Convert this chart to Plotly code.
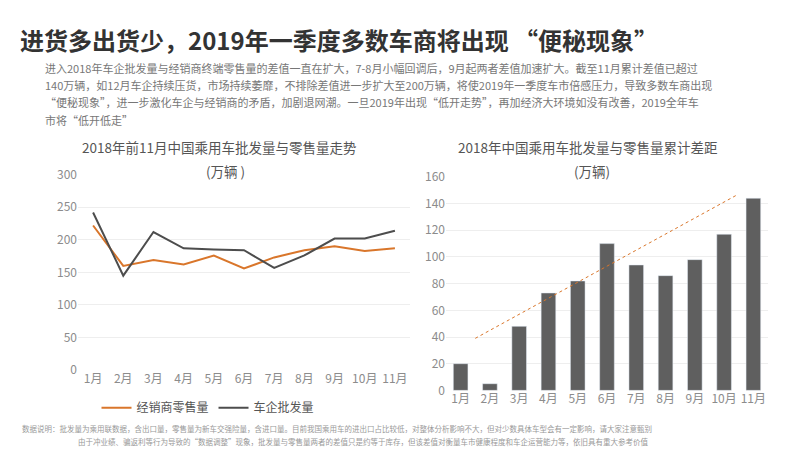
import plotly.graph_objects as go

months = ["1月", "2月", "3月", "4月", "5月", "6月", "7月", "8月", "9月", "10月", "11月"]
retail = [222, 160, 169, 162, 176, 156, 173, 184, 190, 183, 187]
wholesale = [242, 145, 212, 187, 185, 184, 157, 176, 202, 202, 214]
gap = [20, 5, 48, 73, 82, 110, 94, 86, 98, 117, 144]
trend_x = [0.5, 9.4]
trend_y = [39, 146]

para = [
    "进入2018年车企批发量与经销商终端零售量的差值一直在扩大，7-8月小幅回调后，9月起两者差值加速扩大。截至11月累计差值已超过",
    "140万辆，如12月车企持续压货，市场持续萎靡，不排除差值进一步扩大至200万辆，将使2019年一季度车市倍感压力，导致多数车商出现",
    "“便秘现象”，进一步激化车企与经销商的矛盾，加剧退网潮。一旦2019年出现“低开走势”，再加经济大环境如没有改善，2019全年车",
    "市将“低开低走”",
]
note = [
    "数据说明：批发量为乘用联数据，含出口量，零售量为新车交强险量，含进口量。目前我国乘用车的进出口占比较低，对整体分析影响不大，但对少数具体车型会有一定影响，请大家注意甄别",
    "由于冲业绩、骗返利等行为导致的“数据调整”现象，批发量与零售量两者的差值只是约等于库存，但该差值对衡量车市健康程度和车企运营能力等，依旧具有重大参考价值",
]

FONT = "Noto Sans CJK SC"
grey = "#8c8c8c"
fig = go.Figure()

fig.add_trace(go.Scatter(x=months, y=retail, mode="lines", name="经销商零售量",
                         line=dict(color="#d9762b", width=2), xaxis="x", yaxis="y"))
fig.add_trace(go.Scatter(x=months, y=wholesale, mode="lines", name="车企批发量",
                         line=dict(color="#4d4d4d", width=2), xaxis="x", yaxis="y"))
fig.add_trace(go.Bar(x=months, y=gap, marker_color="#5f5f5f", width=0.5,
                     showlegend=False, xaxis="x2", yaxis="y2"))
fig.add_trace(go.Scatter(x=trend_x, y=trend_y, mode="lines", showlegend=False,
                         line=dict(color="#d9762b", width=1, dash="dot"),
                         xaxis="x3", yaxis="y2"))

ax = dict(showgrid=False, showline=False, ticks="",
          tickfont=dict(color=grey, size=12, family=FONT))
ay = dict(showgrid=True, gridcolor="#eeeeee", zeroline=False, showline=False,
          tickfont=dict(color=grey, size=12, family=FONT))

fig.update_layout(
    width=800, height=450, margin=dict(l=0, r=0, t=0, b=0),
    paper_bgcolor="white", plot_bgcolor="white",
    font=dict(family=FONT),
    xaxis=dict(ax, domain=[0.0875, 0.5025], range=[-0.5, 10.5]),
    yaxis=dict(ay, domain=[0.187, 0.638], range=[0, 300], dtick=50),
    xaxis2=dict(ax, domain=[0.5475, 0.95], range=[-0.5, 10.5], anchor="y2"),
    yaxis2=dict(ay, domain=[0.14, 0.633], range=[0, 160], dtick=20, anchor="x2"),
    xaxis3=dict(domain=[0.5475, 0.95], range=[-0.5, 10.5], overlaying="x2",
                visible=False, anchor="y2"),
    legend=dict(orientation="h", x=0.25, xanchor="center", y=0.1, yanchor="middle",
                font=dict(size=12, color="#555555", family=FONT)),
)

ann = [
    dict(x=0.012, y=0.995, text="<b>进货多出货少，2019年一季度多数车商将出现 “便秘现象”</b>",
         font=dict(size=24, color="#333333")),
    dict(x=0.09, y=0.73, text="2018年前11月中国乘用车批发量与零售量走势",
         font=dict(size=13.5, color="#555555")),
    dict(x=0.245, y=0.675, text="(万辆 )", font=dict(size=13.5, color="#555555")),
    dict(x=0.56, y=0.73, text="2018年中国乘用车批发量与零售量累计差距",
         font=dict(size=13.5, color="#555555")),
    dict(x=0.705, y=0.675, text="(万辆)", font=dict(size=13.5, color="#555555")),
]
for i, line in enumerate(para):
    ann.append(dict(x=0.044, y=0.885 - i * 0.04, text=line, font=dict(size=11, color="#777777"),
                    yanchor="middle"))
for i, line in enumerate(note):
    ann.append(dict(x=0.015 if i == 0 else 0.085, y=0.07 - i * 0.03, text=line,
                    font=dict(size=7.5, color="#999999")))
for a in ann:
    a.setdefault("yanchor", "top")
    a.update(xref="paper", yref="paper", xanchor="left", showarrow=False, align="left")
fig.update_layout(annotations=ann)

fig.write_html("out.html")
